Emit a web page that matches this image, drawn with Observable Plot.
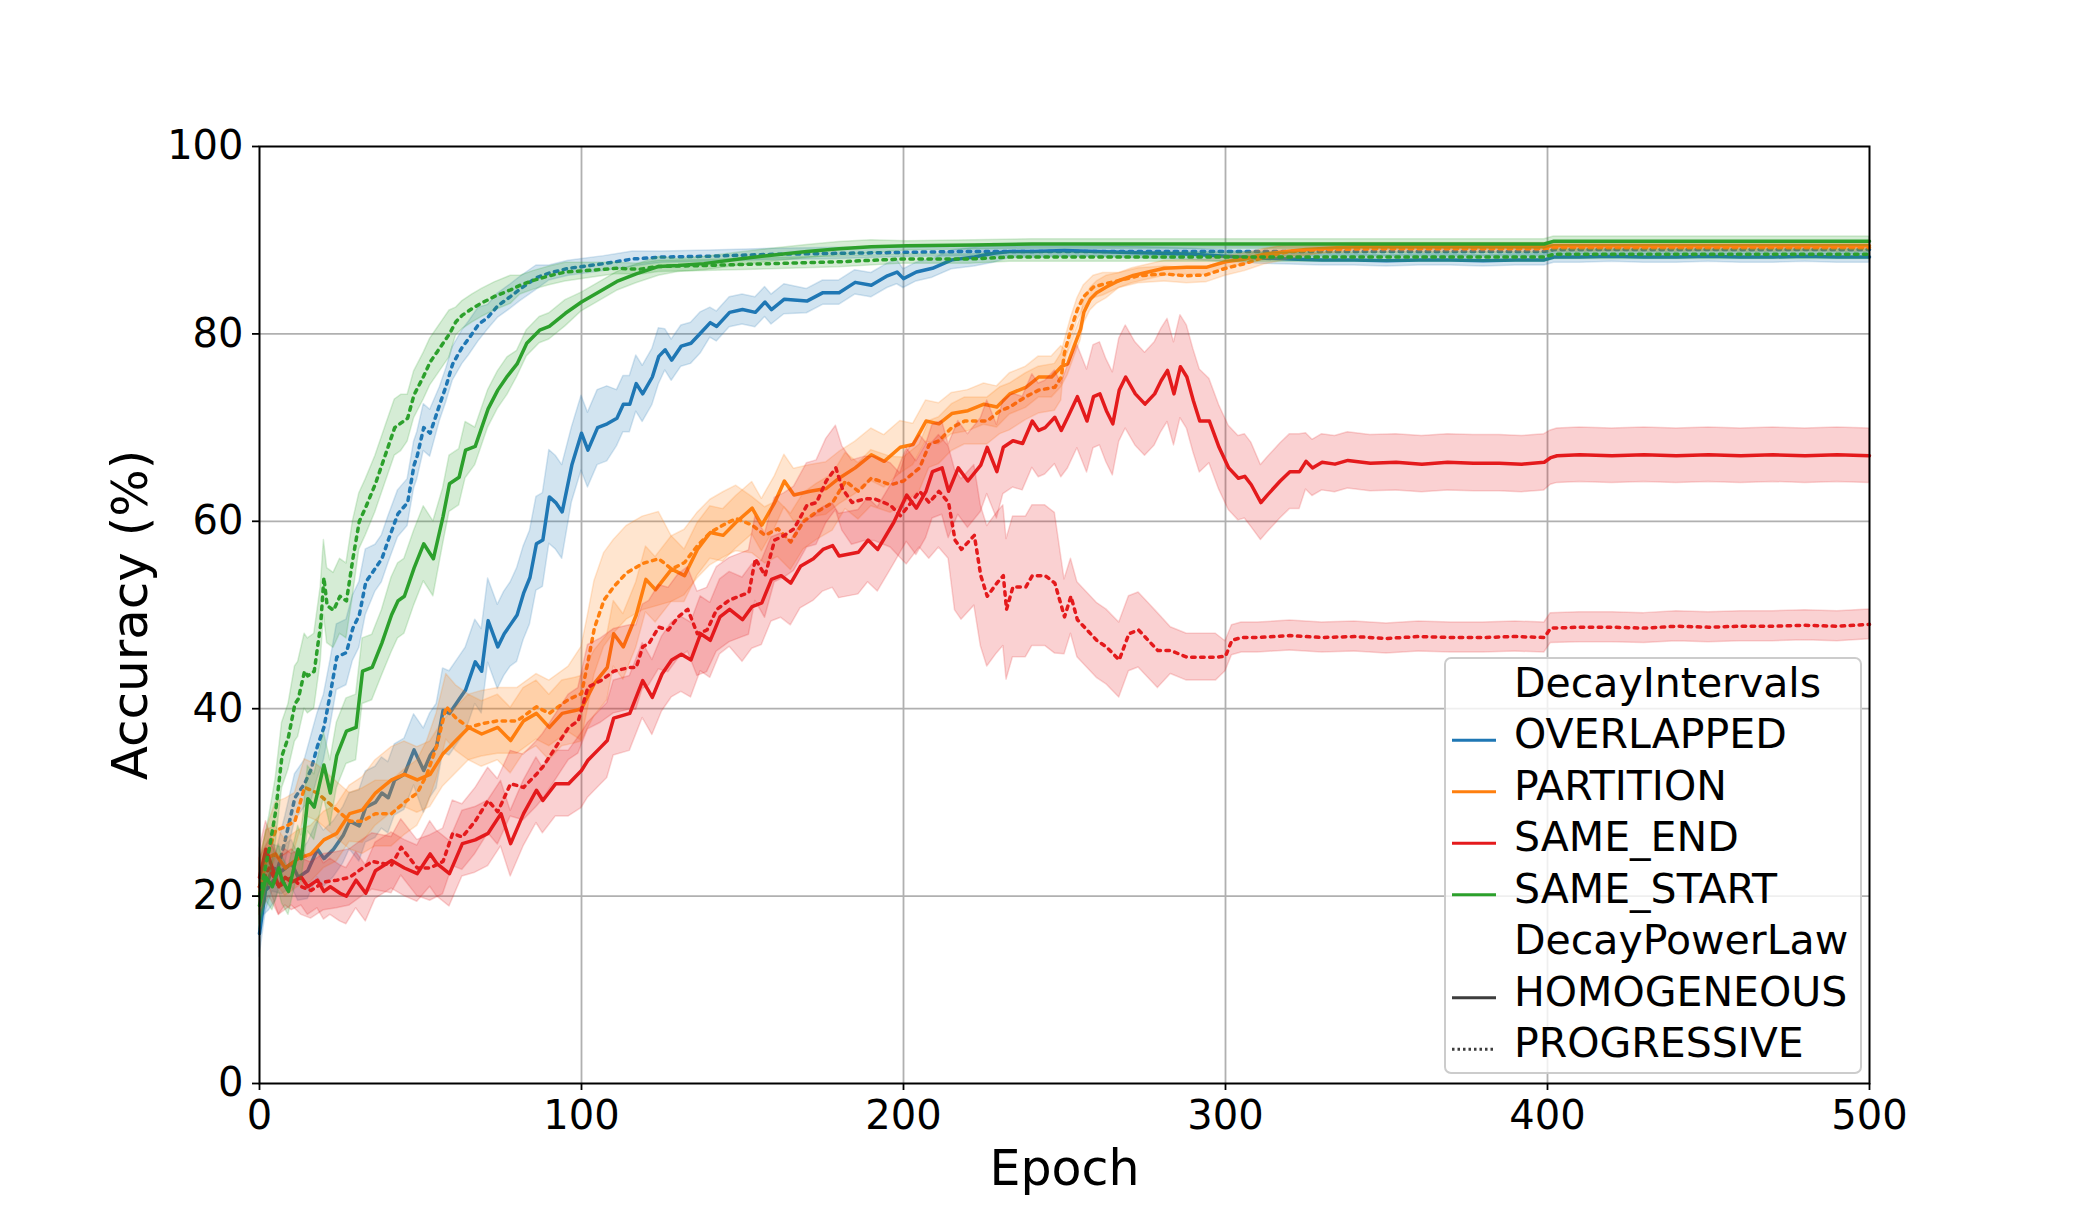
<!DOCTYPE html>
<html>
<head>
<meta charset="utf-8">
<script src="https://cdn.jsdelivr.net/npm/d3@7"></script>
<script src="https://cdn.jsdelivr.net/npm/@observablehq/plot@0.6"></script>
<style>
  html, body { margin: 0; padding: 0; background: #ffffff; }
  #wrap { position: relative; width: 2078px; height: 1217px; }
  #legend { position: absolute; left: 0; top: 0; pointer-events: none; }
</style>
</head>
<body>
<div id="wrap"></div>
<script>
// ---------- categories ----------
const intervals = ["OVERLAPPED", "PARTITION", "SAME_END", "SAME_START"];
const powerLaws = ["HOMOGENEOUS", "PROGRESSIVE"];
const intervalColors = ["#1f77b4", "#ff7f0e", "#e41a1c", "#2ca02c"];
const xTicks = [0, 100, 200, 300, 400, 500];
const yTicks = [0, 20, 40, 60, 80, 100];

// ---------- series: [epoch, mean accuracy] ----------
const overlappedHomogeneous = [[0,16],[2,21],[4,23],[7,22.7],[10,23.5],[12,22],[15,22.7],[18,25],[20,24],[23,25],[26,26.5],[28,28],[31,27.5],[33,29.5],[36,30],[38,31],[40,30.5],[42,32.4],[45,33],[48,35.6],[51,33.4],[53,35],[55,36],[57,39.8],[59,39.5],[62,41],[64,42],[67,45],[69,44],[71,49.4],[74,46.6],[76,48],[78,49],[80,50],[82,52.3],[84,54],[86,57.6],[88,58],[90,62.6],[92,62],[94,61],[97,66],[100,69.4],[102,67.6],[105,70],[108,70.4],[111,71],[113,72.5],[115,72.5],[117,74.7],[119,73.6],[122,75.4],[124,77.6],[126,78.3],[128,77.2],[131,78.7],[134,79],[137,80.1],[140,81.2],[142,80.8],[146,82.3],[150,82.6],[154,82.3],[157,83.4],[159,82.6],[163,83.7],[170,83.5],[175,84.4],[180,84.4],[185,85.5],[190,85.2],[195,86.2],[198,86.6],[200,85.9],[204,86.6],[209,87],[215,87.9],[222,88.2],[228,88.6],[233,88.8],[240,88.8],[250,88.9],[260,88.8],[270,88.7],[280,88.6],[290,88.5],[300,88.3],[310,88.1],[320,88],[330,87.9],[340,87.9],[350,87.8],[360,87.9],[370,87.9],[380,87.8],[390,87.9],[399,87.9],[402,88.2],[410,88.2],[420,88.3],[430,88.2],[440,88.2],[450,88.3],[460,88.2],[470,88.2],[480,88.3],[490,88.2],[500,88.2]];
const overlappedProgressive = [[0,20],[3,21],[5,22],[8,26],[11,30.5],[14,32],[16,33.5],[18,36],[20,38],[22,41.6],[24,45.5],[27,46],[29,48.6],[31,50],[33,53.5],[36,55],[38,56],[40,58],[43,60.8],[46,62],[48,66],[49,67],[51,70],[53,69.4],[56,72.5],[58,74.5],[60,76.8],[63,78.6],[65,79.5],[68,81],[71,81.8],[74,83],[78,84],[81,84.8],[86,86],[90,86.5],[96,87],[107,87.5],[116,88],[125,88.2],[140,88.3],[160,88.5],[180,88.6],[200,88.7],[220,88.8],[240,88.8],[260,88.8],[280,88.8],[300,88.8],[320,88.8],[350,88.8],[380,88.8],[399,88.8],[402,89],[430,89],[460,89],[500,89]];
const partitionHomogeneous = [[0,20],[2,24],[5,24.5],[8,23],[12,24],[16,24.5],[20,26],[24,26.7],[28,28.8],[32,29.2],[36,31],[41,32.4],[45,33],[49,32.4],[53,33],[57,35.2],[61,36.6],[65,38],[69,37.3],[74,38],[78,36.6],[82,38.7],[86,39.5],[90,38],[94,39.5],[98,39.8],[100,40],[104,42.7],[108,44.4],[110,48],[113,46.6],[117,50],[120,53.8],[123,52.7],[128,54.9],[132,54.2],[136,57],[140,58.8],[144,58.5],[148,59.9],[153,61.4],[156,59.6],[160,62],[163,64.3],[166,62.8],[171,63.2],[176,63.5],[180,64.6],[185,65.7],[190,67.1],[194,66.4],[199,67.9],[203,68.2],[207,70.7],[211,70.4],[215,71.5],[220,71.8],[225,72.5],[229,72.2],[233,73.6],[238,74.3],[242,75.4],[246,75.4],[249,76.5],[251,76.8],[253,78.7],[255,80.5],[256,82.3],[258,83.7],[260,84.4],[263,85],[267,85.7],[271,86.2],[276,86.6],[281,87],[288,87.1],[294,87.1],[300,87.7],[306,88],[312,88.5],[319,88.8],[325,89],[340,89.3],[360,89.3],[380,89.3],[399,89.3],[402,89.4],[450,89.4],[500,89.4]];
const partitionProgressive = [[0,21],[3,25],[5,27],[8,27.4],[11,28],[14,31.6],[18,31],[23,29.5],[28,28],[32,28],[36,28.8],[41,28.8],[45,30],[49,31],[52,33],[55,36],[58,40.2],[61,39],[65,38],[69,38.4],[74,38.7],[80,38.7],[86,40.2],[90,39.5],[96,41],[100,41.6],[102,45],[104,48.6],[107,51.6],[110,53],[114,54.5],[119,55.5],[124,56],[128,54.9],[132,55.6],[136,57.4],[140,58.8],[144,59.6],[148,60.3],[153,59.6],[157,58.5],[161,59.2],[165,57.8],[169,60],[173,61],[178,62],[182,64.3],[186,63.2],[190,64.6],[196,63.9],[200,64.3],[205,65.7],[208,68.2],[211,68.6],[215,70],[219,70.7],[226,70.7],[230,71.8],[233,72.2],[238,73.3],[242,74],[247,74.3],[249,75.4],[250,78],[252,80.5],[254,82.6],[256,84],[259,85],[262,85.3],[267,85.7],[273,86.2],[281,86.4],[288,86.2],[294,86.3],[300,87],[306,87.5],[312,88.2],[320,88.8],[330,89],[350,89.1],[380,89.1],[399,89.1],[402,89.2],[450,89.2],[500,89.2]];
const sameEndHomogeneous = [[0,22],[2,25],[4,23],[6,21],[8,22],[10,21.5],[13,22],[15,21],[18,21.7],[20,20.5],[22,21],[25,20.3],[27,20],[30,21.7],[33,20.3],[36,22.7],[41,23.8],[45,23],[49,22.4],[53,24.5],[55,23.5],[59,22.4],[63,25.6],[67,26],[71,26.7],[75,28.8],[78,25.6],[82,28.8],[86,31.3],[88,30.2],[92,32],[96,32],[100,33.4],[102,34.5],[106,35.9],[108,36.6],[110,39],[115,39.5],[119,43],[122,41.2],[125,43.7],[128,45.2],[131,45.8],[134,45.2],[137,48],[140,47.3],[143,49.8],[146,50.6],[150,49.5],[153,50.9],[156,51.3],[159,53.8],[162,54.2],[165,53.4],[168,55.2],[172,56],[175,57],[178,57.4],[180,56.3],[186,56.7],[189,58],[192,57],[197,59.9],[201,62.8],[204,61.4],[207,63.2],[209,65.3],[212,65.7],[214,63.2],[217,65.7],[220,64.3],[224,66],[226,67.9],[229,65.3],[231,67.9],[234,68.6],[237,68.3],[240,70.7],[242,69.7],[244,70],[247,71.1],[249,69.7],[251,71.1],[254,73.3],[257,70.7],[259,73.3],[261,73.6],[263,71.8],[265,70.4],[267,74],[269,75.4],[272,73.6],[275,72.5],[278,73.6],[280,75],[282,76.1],[284,73.6],[286,76.5],[288,75.4],[290,72.9],[292,70.7],[295,70.7],[298,67.9],[301,65.7],[304,64.6],[306,64.8],[308,63.9],[311,62],[313,62.8],[317,64.3],[320,65.3],[323,65.3],[325,66.4],[327,65.7],[330,66.3],[334,66.1],[338,66.5],[345,66.2],[353,66.3],[361,66.1],[369,66.3],[377,66.2],[385,66.2],[392,66.1],[399,66.3],[401,66.8],[403,67],[410,67.1],[420,67],[430,67.1],[440,67],[450,67.1],[460,67],[470,67.1],[480,67],[490,67.1],[500,67]];
const sameEndProgressive = [[0,21],[3,23],[6,21],[10,22],[13,21],[16,20.6],[20,21.5],[24,21.7],[28,22],[32,23],[35,23.7],[41,23.3],[44,25.2],[49,23],[53,23],[57,23.7],[60,26.7],[63,26.3],[67,28],[71,30.2],[74,29],[78,32],[82,31.6],[86,33],[88,33.8],[92,35.9],[96,38],[99,38.7],[102,42.3],[106,43],[110,44],[115,44.4],[117,44.4],[119,46.6],[121,47],[124,48.7],[127,48.4],[130,49.8],[133,50.6],[136,48],[139,48.4],[142,50.6],[146,51.6],[149,52],[152,52.4],[154,56],[157,54.2],[160,58],[163,58.5],[166,59.2],[170,61.7],[173,62],[176,64.3],[179,65.7],[181,63.5],[184,62],[188,62.4],[191,62.4],[196,61.7],[199,60.6],[201,61.4],[205,63.2],[208,62],[211,63.2],[214,62],[216,58],[218,57],[222,58.5],[224,54.2],[226,52],[229,53.4],[231,54.2],[232,50.6],[234,53],[238,53],[240,54.2],[244,54.2],[247,53.4],[250,49.8],[252,52],[254,49.5],[257,48.4],[260,47.3],[263,46.6],[267,45.2],[270,48],[273,48.4],[276,47.3],[279,46.2],[283,46.2],[288,45.5],[292,45.5],[297,45.5],[300,45.6],[302,47.3],[305,47.6],[310,47.6],[315,47.7],[320,47.8],[330,47.6],[340,47.7],[350,47.5],[360,47.7],[370,47.6],[380,47.6],[390,47.7],[399,47.6],[401,48.6],[410,48.7],[420,48.7],[430,48.6],[440,48.8],[450,48.7],[460,48.8],[470,48.8],[480,48.9],[490,48.8],[500,49]];
const sameStartHomogeneous = [[0,19],[2,22],[4,21],[6,23],[7,21.7],[9,20.5],[12,25],[13,24],[15,30.4],[17,29.5],[20,34],[22,31],[24,35],[27,37.6],[30,38],[32,44],[35,44.4],[38,47],[41,50],[43,51.5],[45,52],[48,55],[51,57.6],[54,56],[57,60.5],[59,64],[62,64.7],[64,67.6],[67,68],[69,70],[71,72],[74,74],[77,75.5],[80,76.8],[83,79],[87,80.4],[90,80.8],[95,82.2],[100,83.4],[107,84.8],[111,85.6],[117,86.4],[124,87.2],[130,87.3],[138,87.5],[149,88],[159,88.4],[170,88.8],[180,89.1],[190,89.3],[201,89.4],[222,89.5],[240,89.6],[270,89.6],[300,89.6],[330,89.6],[360,89.6],[399,89.6],[402,89.9],[450,89.9],[500,89.9]];
const sameStartProgressive = [[0,20],[3,25],[5,29],[7,35],[9,37],[11,40.5],[12,41],[14,44],[15,43.5],[17,44],[19,49],[20,54],[21,51],[23,50.5],[25,52],[27,51.5],[29,56],[31,60],[33,61.5],[36,64],[37,65],[39,67],[42,70],[44,70.5],[46,71],[48,73.5],[51,75.5],[53,77],[55,78],[57,79],[59,80],[61,81.3],[63,82],[66,82.7],[69,83.3],[73,84],[78,84.7],[81,85.2],[85,85.7],[90,86.2],[95,86.6],[111,87],[118,86.9],[124,87.2],[138,87.3],[159,87.5],[180,87.7],[200,88],[221,88],[233,88.2],[260,88.2],[300,88.2],[350,88.2],[399,88.2],[402,88.5],[450,88.5],[500,88.5]];

// ---------- confidence half-widths: [from epoch, half-width] ----------
const overlappedHomogeneousSpread = [[0,2.5],[15,3],[30,3.8],[50,4.5],[80,5],[95,4],[110,3],[125,2.2],[140,1.6],[170,1.3],[200,1],[230,0.7],[260,0.6]];
const overlappedProgressiveSpread = [[0,2.5],[15,3.5],[35,2.5],[55,1.8],[70,1.3],[90,0.8],[120,0.6],[200,0.5]];
const partitionHomogeneousSpread = [[0,3],[30,3.5],[130,2.8],[200,2.2],[250,1.2],[265,0.8],[300,0.6],[330,0.4]];
const partitionProgressiveSpread = [[0,3],[30,3.5],[100,5],[125,3.5],[150,3],[200,2.5],[250,1.2],[265,0.8],[330,0.4]];
const sameEndHomogeneousSpread = [[0,3],[50,3.5],[100,4],[150,4.5],[200,5],[250,5.5],[295,4.5],[310,4],[325,3],[400,2.9]];
const sameEndProgressiveSpread = [[0,3],[50,3.5],[100,4.5],[200,6],[215,7.5],[250,4],[280,2.5],[300,1.6]];
const sameStartHomogeneousSpread = [[0,2.5],[15,3.5],[40,4],[55,3],[65,2],[80,1.4],[100,1],[130,0.7],[200,0.5]];
const sameStartProgressiveSpread = [[0,3.5],[10,4],[30,3],[45,2.5],[60,1.5],[80,1],[110,0.6],[200,0.5]];

const seriesList = [
  ["OVERLAPPED", "HOMOGENEOUS", overlappedHomogeneous, overlappedHomogeneousSpread],
  ["OVERLAPPED", "PROGRESSIVE", overlappedProgressive, overlappedProgressiveSpread],
  ["PARTITION", "HOMOGENEOUS", partitionHomogeneous, partitionHomogeneousSpread],
  ["PARTITION", "PROGRESSIVE", partitionProgressive, partitionProgressiveSpread],
  ["SAME_END", "HOMOGENEOUS", sameEndHomogeneous, sameEndHomogeneousSpread],
  ["SAME_END", "PROGRESSIVE", sameEndProgressive, sameEndProgressiveSpread],
  ["SAME_START", "HOMOGENEOUS", sameStartHomogeneous, sameStartHomogeneousSpread],
  ["SAME_START", "PROGRESSIVE", sameStartProgressive, sameStartProgressiveSpread]
];

function spreadAt(spread, e) {
  let s = spread[0][1];
  for (const [from, w] of spread) if (e >= from) s = w;
  return s;
}

const DOTS = "3.5,5.5";

const marks = [
  Plot.gridX(xTicks.slice(1, -1), {stroke: "#b0b0b0", strokeOpacity: 1, strokeWidth: 1.8}),
  Plot.gridY(yTicks.slice(1, -1), {stroke: "#b0b0b0", strokeOpacity: 1, strokeWidth: 1.8})
];

for (const [interval, law, pts, spread] of seriesList) {
  const color = intervalColors[intervals.indexOf(interval)];
  const rows = pts.map(([e, v]) => {
    const s = spreadAt(spread, e);
    return {epoch: e, mean: v, lo: v - s, hi: v + s};
  });
  marks.push(Plot.areaY(rows, {x: "epoch", y1: "lo", y2: "hi", fill: color, fillOpacity: 0.2,
    stroke: color, strokeOpacity: 0.18, strokeWidth: 1.5}));
  marks.push(Plot.line(rows, {x: "epoch", y: "mean", stroke: color, strokeWidth: 3.5,
    strokeLinejoin: "round",
    strokeDasharray: law === "PROGRESSIVE" ? DOTS : null}));
}

marks.push(
  Plot.frame({stroke: "black", strokeWidth: 2}),
  Plot.axisX({ticks: xTicks, tickSize: 7, tickPadding: 10, fontSize: 40, strokeWidth: 1.8, label: null, tickFormat: d => String(d)}),
  Plot.axisY({ticks: yTicks, tickSize: 7, tickPadding: 9, fontSize: 40, strokeWidth: 1.8, label: null, tickFormat: d => String(d)}),
  Plot.text(["Epoch"], {text: d => d, frameAnchor: "bottom", dy: 101, lineAnchor: "bottom", fontSize: 49, fill: "black"}),
  Plot.text(["Accuracy (%)"], {text: d => d, frameAnchor: "left", textAnchor: "middle", rotate: -90, dx: -113, lineAnchor: "bottom", fontSize: 50, fill: "black"})
);

const chart = Plot.plot({
  width: 2078,
  height: 1217,
  marginLeft: 259,
  marginRight: 209,
  marginTop: 146,
  marginBottom: 134,
  x: {domain: [0, 500]},
  y: {domain: [0, 100]},
  style: {fontFamily: "DejaVu Sans", background: "white", color: "black"},
  marks
});
document.getElementById("wrap").appendChild(chart);

// ---------- legend (overlay inside the axes) ----------
const legendRows = [
  {label: "DecayIntervals", title: true},
  ...intervals.map((d, i) => ({label: d, color: intervalColors[i], dash: null})),
  {label: "DecayPowerLaw", title: true},
  {label: powerLaws[0], color: "#3d3d3d", dash: null},
  {label: powerLaws[1], color: "#3d3d3d", dash: "2.5,3"}
];
const svg = d3.select("#wrap").append("svg")
  .attr("id", "legend").attr("width", 2078).attr("height", 1217);
svg.append("rect").attr("x", 1445).attr("y", 658).attr("width", 416).attr("height", 415)
  .attr("rx", 6).attr("fill", "white").attr("fill-opacity", 0.8)
  .attr("stroke", "#cccccc").attr("stroke-width", 2);
legendRows.forEach((r, i) => {
  const base = 696.7 + 51.5 * i;
  if (!r.title) {
    svg.append("line").attr("x1", 1452).attr("x2", 1496).attr("y1", base - 8).attr("y2", base - 8)
      .attr("stroke", r.color).attr("stroke-width", 3)
      .attr("stroke-dasharray", r.dash);
  }
  svg.append("text").attr("x", 1514).attr("y", base)
    .attr("font-family", "DejaVu Sans").attr("font-size", 41).attr("fill", "black")
    .text(r.label);
});
</script>
</body>
</html>
